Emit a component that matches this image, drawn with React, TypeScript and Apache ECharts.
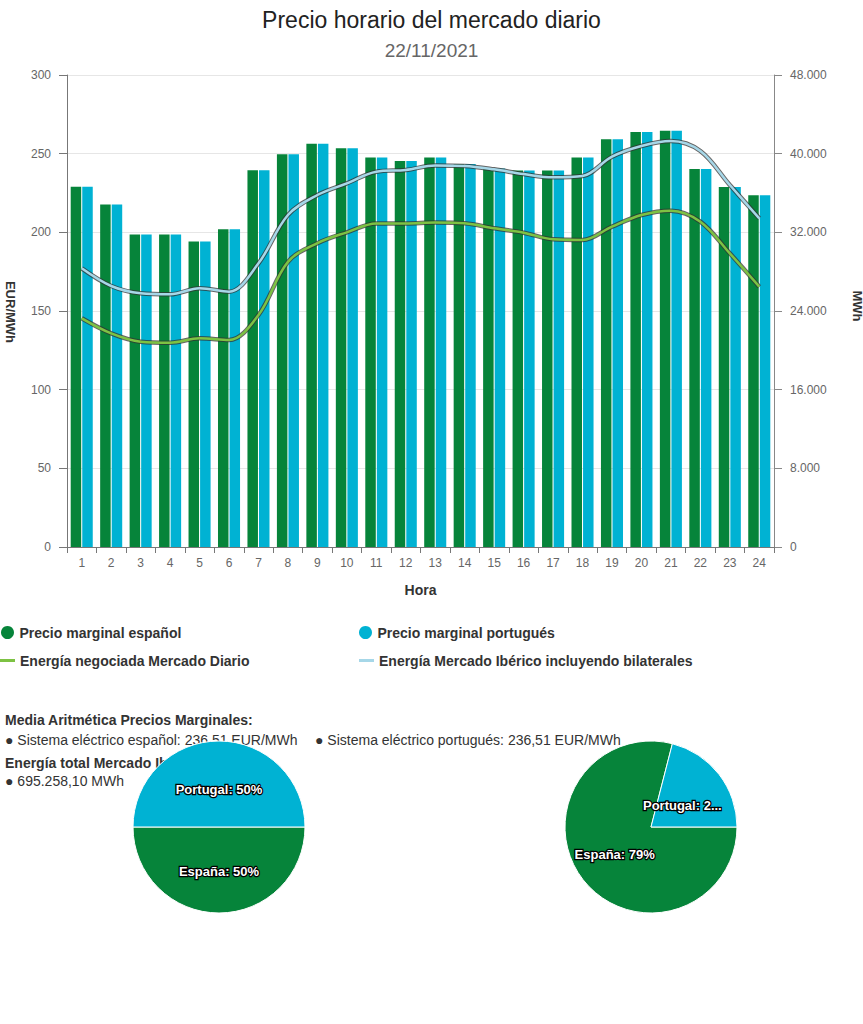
import React, { useEffect, useRef } from 'react';
import * as echarts from 'echarts';

const horas = ['1','2','3','4','5','6','7','8','9','10','11','12','13','14','15','16','17','18','19','20','21','22','23','24'];
const precioES = [228.9, 217.7, 198.6, 198.6, 194.1, 202.0, 239.5, 249.7, 256.3, 253.5, 247.5, 245.3, 247.5, 243.5, 240.6, 239.3, 239.3, 247.6, 259.2, 263.7, 264.5, 240.3, 228.8, 223.5];
const precioPT = [228.9, 217.7, 198.6, 198.6, 194.1, 202.0, 239.5, 249.7, 256.3, 253.5, 247.5, 245.3, 247.5, 243.5, 240.6, 239.3, 239.3, 247.6, 259.2, 263.7, 264.5, 240.3, 228.8, 223.5];
const energiaDiario = [23258, 21729, 20881, 20780, 21220, 21050, 23593, 29000, 30900, 32000, 32900, 32900, 33000, 32915, 32406, 31966, 31288, 31220, 32576, 33763, 34204, 33085, 29864, 26474];
const energiaIberico = [28342, 26542, 25800, 25698, 26308, 25966, 28850, 33763, 35797, 36983, 38169, 38339, 38800, 38746, 38407, 37929, 37590, 37725, 39695, 40780, 41288, 40271, 36814, 33424];
const pieIzq = [{ name: 'España', value: 50 }, { name: 'Portugal', value: 50 }];
const pieDer = [{ name: 'España', value: 79 }, { name: 'Portugal', value: 21 }];

const FONT = 'Liberation Sans, Arial, sans-serif';
const VERDE = '#06843a';
const CIAN = '#00b2d3';
const VERDE_L = '#7dc243';
const AZUL_L = '#a6d7e8';

const fmtMiles = (v: number) => String(v).replace(/\B(?=(\d{3})+(?!\d))/g, '.');

export default function App() {
  const ref = useRef<HTMLDivElement>(null);
  useEffect(() => {
    const chart = echarts.init(ref.current!, null, { renderer: 'svg' });
    const legendText = { fontFamily: FONT, fontSize: 14, fontWeight: 'bold' as const, color: '#333' };
    const pieLabel = {
      show: true,
      position: 'inside',
      formatter: '{b}: {d}%',
      color: '#fff',
      fontFamily: FONT,
      fontSize: 13,
      fontWeight: 'bold',
      textBorderColor: '#000',
      textBorderWidth: 2.5,
    };
    const txt = (x: number, y: number, text: string, bold: boolean) => ({
      type: 'text',
      x, y, z: 0,
      style: {
        text,
        font: `${bold ? 'bold ' : ''}14px ${FONT}`,
        fill: '#333',
        textAlign: 'left', align: 'left',
        textVerticalAlign: 'middle', verticalAlign: 'middle',
      },
    });
    chart.setOption({
      animation: false,
      backgroundColor: '#fff',
      textStyle: { fontFamily: FONT },
      title: [
        { text: 'Precio horario del mercado diario', left: 'center', top: 8, padding: 0,
          textStyle: { fontFamily: FONT, fontSize: 23, fontWeight: 'normal', color: '#222' } },
        { text: '22/11/2021', left: 'center', top: 41, padding: 0,
          textStyle: { fontFamily: FONT, fontSize: 19, fontWeight: 'normal', color: '#666' } },
      ],
      legend: [
        { data: ['Precio marginal español'], left: 1, top: 625.5, padding: 0, icon: 'circle', itemWidth: 14, itemHeight: 13, selectedMode: false, textStyle: legendText },
        { data: ['Precio marginal portugués'], left: 359, top: 625.5, padding: 0, icon: 'circle', itemWidth: 14, itemHeight: 13, selectedMode: false, textStyle: legendText },
        { data: ['Energía negociada Mercado Diario'], left: 0, top: 653.5, padding: 0, icon: 'rect', itemWidth: 15, itemHeight: 3, selectedMode: false, textStyle: legendText },
        { data: ['Energía Mercado Ibérico incluyendo bilaterales'], left: 359, top: 653.5, padding: 0, icon: 'rect', itemWidth: 15, itemHeight: 3, selectedMode: false, textStyle: legendText },
      ],
      grid: { left: 67, right: 89, top: 75, bottom: 477, containLabel: false },
      xAxis: {
        type: 'category',
        data: horas,
        name: 'Hora',
        nameLocation: 'middle',
        nameGap: 36,
        nameTextStyle: { fontFamily: FONT, fontSize: 14, fontWeight: 'bold', color: '#333' },
        axisLine: { lineStyle: { color: '#777', width: 1 } },
        axisTick: { show: true, length: 6, lineStyle: { color: '#777' } },
        axisLabel: { color: '#666', fontSize: 12, margin: 10 },
      },
      yAxis: [
        {
          type: 'value', min: 0, max: 300, interval: 50,
          axisLine: { show: true, lineStyle: { color: '#777' } },
          axisTick: { show: true, length: 8, lineStyle: { color: '#777' } },
          axisLabel: { color: '#666', fontSize: 12, margin: 16 },
          splitLine: { lineStyle: { color: '#e6e6e6' } },
        },
        {
          type: 'value', min: 0, max: 48000, interval: 8000,
          axisLine: { show: true, lineStyle: { color: '#888' } },
          axisTick: { show: true, length: 8, lineStyle: { color: '#888' } },
          axisLabel: { color: '#666', fontSize: 12, margin: 16, formatter: (v: number) => fmtMiles(v) },
          splitLine: { show: false },
        },
      ],
      graphic: [
        { type: 'text', x: 10, y: 312, rotation: -Math.PI / 2,
          style: { text: 'EUR/MWh', font: `bold 13px ${FONT}`, fill: '#333', textAlign: 'center', align: 'center', textVerticalAlign: 'middle', verticalAlign: 'middle' } },
        { type: 'text', x: 857, y: 306, rotation: -Math.PI / 2,
          style: { text: 'MWh', font: `bold 13px ${FONT}`, fill: '#333', textAlign: 'center', align: 'center', textVerticalAlign: 'middle', verticalAlign: 'middle' } },
        txt(5, 720, 'Media Aritmética Precios Marginales:', true),
        txt(5, 740, '● Sistema eléctrico español: 236,51 EUR/MWh', false),
        txt(315, 740, '● Sistema eléctrico portugués: 236,51 EUR/MWh', false),
        txt(5, 763, 'Energía total Mercado Ibérico:', true),
        txt(5, 781, '● 695.258,10 MWh', false),
      ],
      series: [
        { name: 'Precio marginal español', type: 'bar', data: precioES, barWidth: 10.5, barGap: '10%', itemStyle: { color: VERDE }, z: 2 },
        { name: 'Precio marginal portugués', type: 'bar', data: precioPT, barWidth: 10.5, barGap: '10%', itemStyle: { color: CIAN }, z: 2 },
        { name: 'sombraDiario', type: 'line', yAxisIndex: 1, data: energiaDiario, smooth: 0.35, showSymbol: false, silent: true,
          lineStyle: { color: '#333', width: 4.5, opacity: 0.75 }, itemStyle: { color: '#333' }, z: 3 },
        { name: 'Energía negociada Mercado Diario', type: 'line', yAxisIndex: 1, data: energiaDiario, smooth: 0.35, showSymbol: false,
          color: VERDE_L, lineStyle: { color: VERDE_L, width: 2.5 }, itemStyle: { color: VERDE_L }, z: 4 },
        { name: 'sombraIberico', type: 'line', yAxisIndex: 1, data: energiaIberico, smooth: 0.35, showSymbol: false, silent: true,
          lineStyle: { color: '#333', width: 4.5, opacity: 0.75 }, itemStyle: { color: '#333' }, z: 3 },
        { name: 'Energía Mercado Ibérico incluyendo bilaterales', type: 'line', yAxisIndex: 1, data: energiaIberico, smooth: 0.35, showSymbol: false,
          color: AZUL_L, lineStyle: { color: AZUL_L, width: 2.5 }, itemStyle: { color: AZUL_L }, z: 4 },
        {
          name: 'pieIzq', type: 'pie', center: [219, 827], radius: 86, startAngle: 0, clockwise: true, z: 5,
          data: pieIzq, label: pieLabel, labelLine: { show: false },
          labelLayout: (p: any) => (p.dataIndex === 1 ? { dy: 8 } : { dy: -2 }),
          itemStyle: { borderColor: '#fff', borderWidth: 1 },
          color: [VERDE, CIAN],
        },
        {
          name: 'pieDer', type: 'pie', center: [651, 827], radius: 86, startAngle: 0, clockwise: true, z: 5,
          data: [
            pieDer[0],
            { ...pieDer[1], label: { width: 83, overflow: 'truncate', ellipsis: '...' } },
          ],
          label: pieLabel, labelLine: { show: false },
          labelLayout: (p: any) => (p.dataIndex === 1 ? { dx: -5, dy: 7 } : { dy: -1 }),
          itemStyle: { borderColor: '#fff', borderWidth: 1 },
          color: [VERDE, CIAN],
        },
      ],
    });
    return () => chart.dispose();
  }, []);
  return <div ref={ref} style={{ position: 'absolute', left: 0, top: 0, width: 863, height: 1024 }} />;
}
